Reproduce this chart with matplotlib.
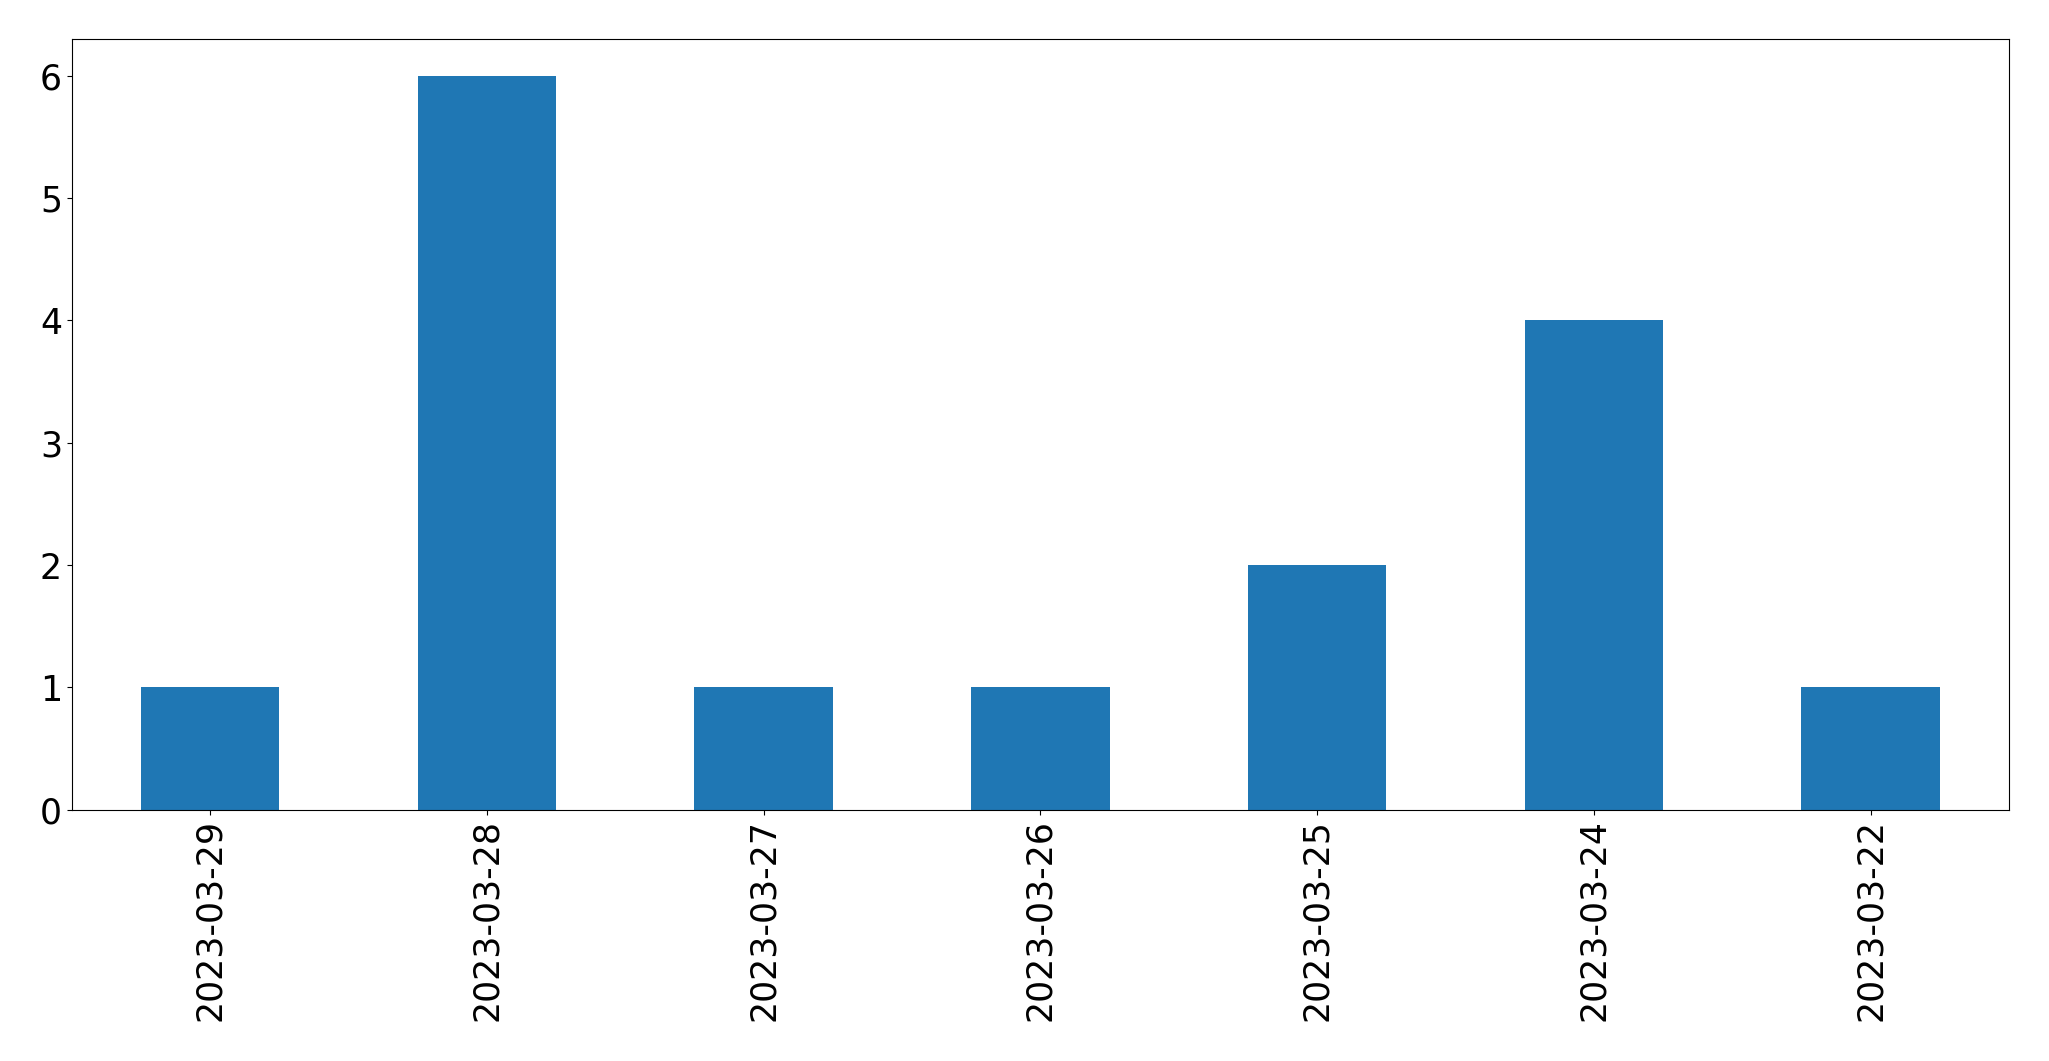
import matplotlib
matplotlib.use("Agg")
import matplotlib.pyplot as plt
import pandas as pd

# counts per day, in the order shown on the chart
dates = ["2023-03-29", "2023-03-28", "2023-03-27", "2023-03-26",
         "2023-03-25", "2023-03-24", "2023-03-22"]
counts = [1, 6, 1, 1, 2, 4, 1]

series = pd.Series(counts, index=dates)

fig, ax = plt.subplots(figsize=(20.49, 10.61), dpi=100)
series.plot(kind="bar", ax=ax, color="#1f77b4", fontsize=25)

plt.subplots_adjust(left=0.035, right=0.9805, top=0.963, bottom=0.237)
plt.savefig("out.png", dpi=100)
